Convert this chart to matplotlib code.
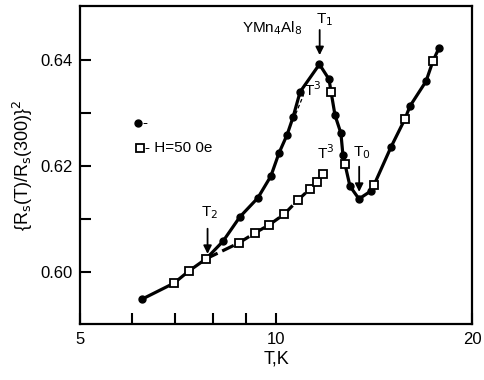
import numpy as np
import matplotlib.pyplot as plt
from matplotlib.ticker import FixedLocator, NullFormatter, FixedFormatter

plt.rcParams['font.family'] = ['Liberation Sans', 'DejaVu Sans']

# dados: circulos cheios (H=0)
T_circ = [6.23, 8.29, 8.80, 9.38, 9.82, 10.11, 10.40, 10.62, 10.89, 11.66,
          12.06, 12.32, 12.58, 12.67, 12.99, 13.41, 13.99, 15.02, 16.06, 17.00, 17.80]
R_circ = [0.5949, 0.6058, 0.6104, 0.6140, 0.6181, 0.6225, 0.6259, 0.6292, 0.6340, 0.6392,
          0.6364, 0.6296, 0.6262, 0.6221, 0.6162, 0.6138, 0.6153, 0.6236, 0.6313, 0.6360, 0.6423]

# dados: quadrados abertos (H=50 Oe)
T_sq = [6.97, 7.35, 7.81, 8.77, 9.29, 9.76, 10.29, 10.81, 11.28, 11.56, 11.81,
        12.15, 12.76, 14.14, 15.78, 17.42]
R_sq = [0.5979, 0.6002, 0.6025, 0.6055, 0.6074, 0.6089, 0.6109, 0.6136, 0.6157, 0.6170, 0.6185,
        0.6340, 0.6204, 0.6164, 0.6289, 0.6398]

# ramo inferior (tracejado) a partir de T2
T_low = T_sq[2:11]
R_low = R_sq[2:11]

# curva principal: circulos + quadrados sobre ela
main = sorted(list(zip(T_circ, R_circ)) + list(zip(T_sq[:3], R_sq[:3])) + list(zip(T_sq[11:], R_sq[11:])))
T_main = [p[0] for p in main]
R_main = [p[1] for p in main]

# ajuste T^3 perto do pico
T_fit = [10.72, 11.02]
R_fit = [0.6298, 0.6334]

fig = plt.figure(figsize=(4.84, 3.80), dpi=100)
ax = fig.add_axes([0.1653, 0.1474, 0.8099, 0.8368])

ax.plot(T_main, R_main, color='black', lw=2.3, zorder=2, solid_joinstyle='round')
ax.plot(T_low, R_low, color='black', lw=2.3, dashes=(4, 1.6), zorder=2)
ax.plot(T_fit, R_fit, color='black', lw=0.9, dashes=(3, 2), zorder=2)
ax.plot(T_circ, R_circ, 'o', color='black', ms=5, zorder=3)
ax.plot(T_sq, R_sq, 's', mfc='white', mec='black', mew=1.3, ms=5.5, zorder=4)

ax.set_xscale('log')
ax.set_xlim(5, 20)
ax.set_ylim(0.5902, 0.6502)

ax.xaxis.set_major_locator(FixedLocator([5, 10, 20]))
ax.xaxis.set_major_formatter(FixedFormatter(['5', '10', '20']))
ax.xaxis.set_minor_locator(FixedLocator([6, 7, 8, 9]))
ax.xaxis.set_minor_formatter(NullFormatter())
ax.set_yticks([0.60, 0.62, 0.64])
ax.set_yticklabels(['0.60', '0.62', '0.64'])
ax.yaxis.set_minor_locator(FixedLocator([0.61, 0.63]))

ax.tick_params(which='both', direction='in', width=1.5, labelsize=12, top=False, right=False)
ax.tick_params(which='major', length=8, pad=5)
ax.tick_params(which='minor', length=8)
ax.tick_params(axis='x', which='major', pad=6)
for s in ax.spines.values():
    s.set_linewidth(1.6)

ax.set_xlabel('T,K', fontsize=13, labelpad=2)
ax.set_ylabel(r'{R$_\mathrm{s}$(T)/R$_\mathrm{s}$(300)}$^2$', fontsize=13, labelpad=4)

# anotacoes
ax.text(0.49, 0.931, r'YMn$_4$Al$_8$', transform=ax.transAxes, fontsize=11, ha='center', va='center')
ax.text(11.89, 0.6476, r'T$_1$', fontsize=11, ha='center', va='center')
ax.annotate('', xy=(11.67, 0.6404), xytext=(11.67, 0.6462),
            arrowprops=dict(arrowstyle='-|>', color='black', lw=1.3, mutation_scale=12))
ax.text(11.39, 0.6345, r'T$^3$', fontsize=11, ha='center', va='center')
ax.text(11.92, 0.6226, r'T$^3$', fontsize=11, ha='center', va='center')
ax.text(13.55, 0.6226, r'T$_0$', fontsize=11, ha='center', va='center')
ax.annotate('', xy=(13.42, 0.6146), xytext=(13.42, 0.6204),
            arrowprops=dict(arrowstyle='-|>', color='black', lw=1.3, mutation_scale=12))
ax.text(7.92, 0.6113, r'T$_2$', fontsize=11, ha='center', va='center')
ax.annotate('', xy=(7.85, 0.6029), xytext=(7.85, 0.6087),
            arrowprops=dict(arrowstyle='-|>', color='black', lw=1.3, mutation_scale=12))

# legenda manual
ax.plot([0.148], [0.632], 'o', color='black', ms=5, transform=ax.transAxes)
ax.text(0.160, 0.632, '-', transform=ax.transAxes, fontsize=11, va='center')
ax.plot([0.153], [0.553], 's', mfc='white', mec='black', mew=1.3, ms=5.5, transform=ax.transAxes)
ax.text(0.166, 0.553, '- H=50 0e', transform=ax.transAxes, fontsize=11, va='center')

fig.savefig('out.png', dpi=100)
